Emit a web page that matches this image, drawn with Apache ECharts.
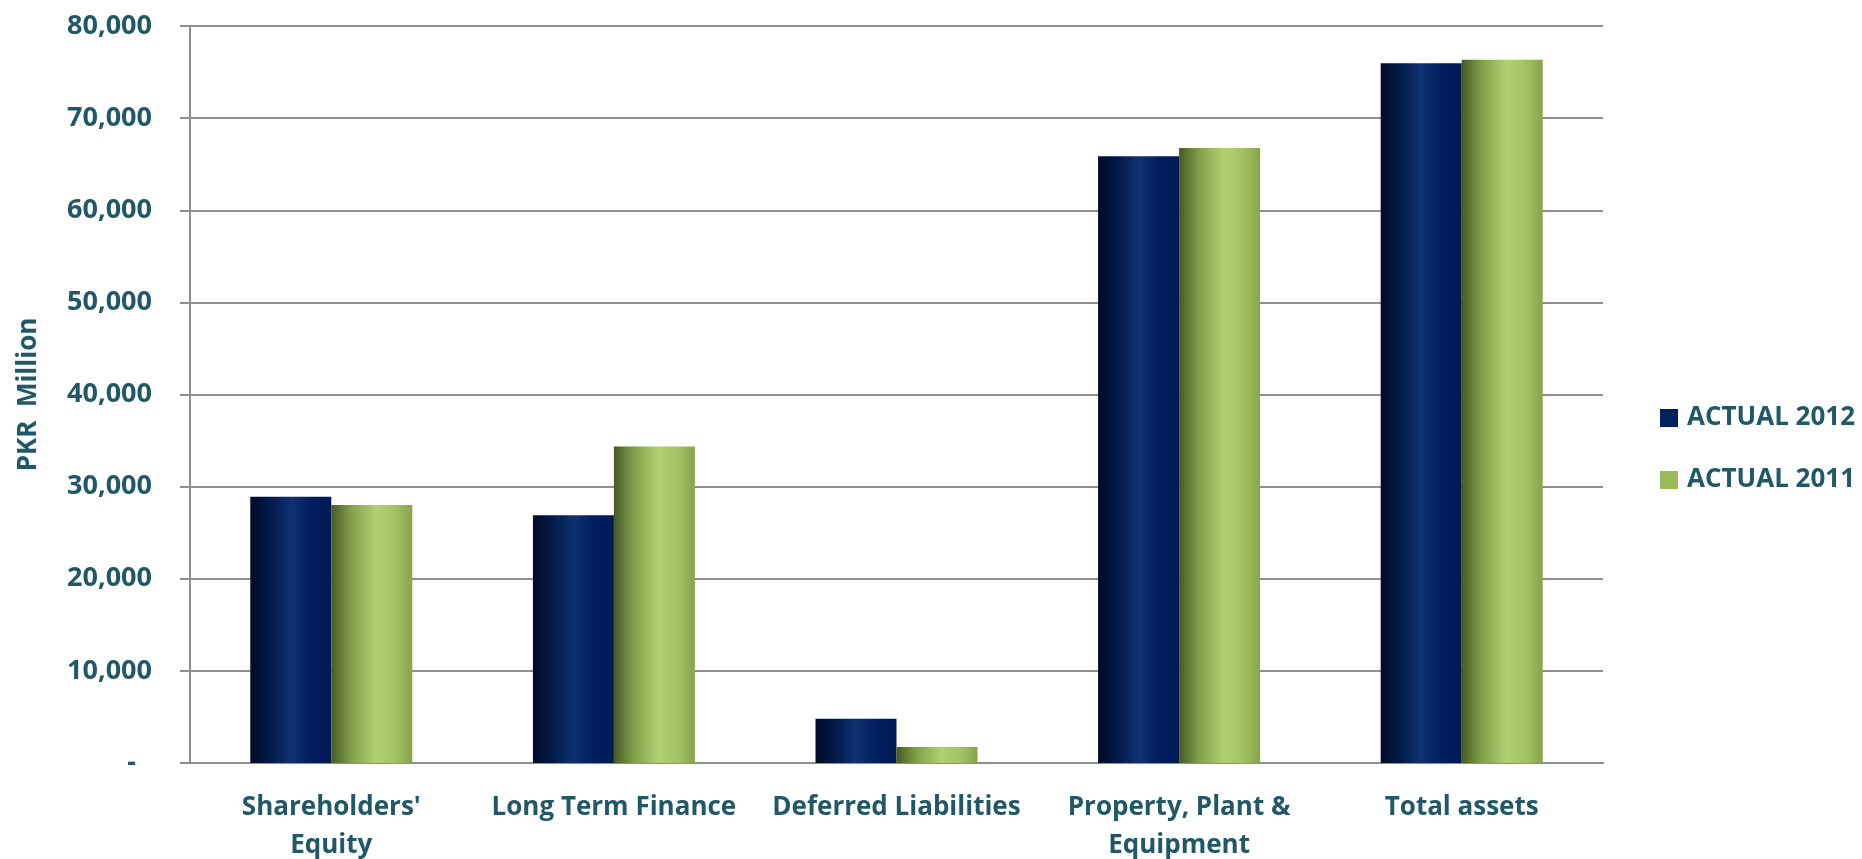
<!DOCTYPE html>
<html>
<head>
<meta charset="utf-8">
<title>Balance Sheet Comparison</title>
<script src="https://cdn.jsdelivr.net/npm/echarts@6/dist/echarts.min.js"></script>
<style>
  html, body { margin: 0; padding: 0; background: #ffffff; }
  #chart { width: 1862px; height: 859px; }
</style>
</head>
<body>
<div id="chart"></div>
<script>
// Balance sheet items, PKR million
const categories = [
  "Shareholders'\nEquity",
  'Long Term Finance',
  'Deferred Liabilities',
  'Property, Plant &\nEquipment',
  'Total assets'
];
const seriesNames = ['ACTUAL 2012', 'ACTUAL 2011'];
const actual2012 = [28900, 26900, 4800, 65850, 75950];
const actual2011 = [28000, 34350, 1750, 66750, 76350];

const textColor = '#215868';
const gridColor = '#8f8f8f';
const fontFamily = '"Open Sans", "Noto Sans", sans-serif';

// Cylinder-like horizontal shading for each series
const blueFill = new echarts.graphic.LinearGradient(0, 0, 1, 0, [
  { offset: 0, color: '#000a26' },
  { offset: 0.25, color: '#031a4c' },
  { offset: 0.5, color: '#10316f' },
  { offset: 0.75, color: '#021e5e' },
  { offset: 1, color: '#001a55' }
]);
const greenFill = new echarts.graphic.LinearGradient(0, 0, 1, 0, [
  { offset: 0, color: '#475a24' },
  { offset: 0.25, color: '#83a04a' },
  { offset: 0.55, color: '#b1d070' },
  { offset: 0.8, color: '#a3c163' },
  { offset: 1, color: '#87a34c' }
]);

const chart = echarts.init(document.getElementById('chart'), null, { renderer: 'canvas' });

chart.setOption({
  backgroundColor: '#ffffff',
  animation: false,
  grid: {
    left: 190, right: 259, top: 26, bottom: 96,
    containLabel: false,
    outerBoundsMode: 'none'
  },
  legend: {
    orient: 'vertical',
    left: 1655,
    top: 400,
    itemWidth: 18,
    itemHeight: 18,
    itemGap: 36,
    icon: 'rect',
    data: [
      { name: seriesNames[0], itemStyle: { color: '#002060' } },
      { name: seriesNames[1], itemStyle: { color: '#9bbb59' } }
    ],
    textStyle: {
      color: textColor,
      fontFamily: fontFamily,
      fontWeight: 'bold',
      fontSize: 26,
      padding: [0, 0, 0, 4]
    }
  },
  xAxis: {
    type: 'category',
    data: categories,
    axisLine: { show: true, lineStyle: { color: gridColor, width: 2 } },
    axisTick: { show: false },
    axisLabel: {
      color: textColor,
      fontFamily: fontFamily,
      fontWeight: 'bold',
      fontSize: 26,
      lineHeight: 38,
      margin: 26,
      interval: 0
    }
  },
  yAxis: {
    type: 'value',
    min: 0,
    max: 80000,
    interval: 10000,
    name: 'PKR  Million',
    nameLocation: 'middle',
    nameGap: 148,
    nameRotate: 90,
    nameTextStyle: {
      color: textColor,
      fontFamily: fontFamily,
      fontWeight: 'bold',
      fontSize: 26
    },
    axisLine: { show: true, lineStyle: { color: gridColor, width: 2 } },
    axisTick: { show: true, inside: false, length: 10, lineStyle: { color: gridColor, width: 2 } },
    splitLine: { show: true, lineStyle: { color: gridColor, width: 2 } },
    axisLabel: {
      color: textColor,
      fontFamily: fontFamily,
      fontWeight: 'bold',
      fontSize: 27,
      margin: 38,
      formatter: function (v) {
        return v === 0 ? '{z|-}' : v.toLocaleString('en-US');
      },
      rich: {
        z: {
          color: textColor,
          fontFamily: fontFamily,
          fontWeight: 'bold',
          fontSize: 27,
          padding: [0, 16, 0, 0]
        }
      }
    }
  },
  series: [
    {
      name: seriesNames[0],
      type: 'bar',
      data: actual2012,
      barWidth: 81,
      barGap: '0%',
      itemStyle: { color: blueFill }
    },
    {
      name: seriesNames[1],
      type: 'bar',
      data: actual2011,
      barWidth: 81,
      barGap: '0%',
      itemStyle: { color: greenFill }
    }
  ]
});
</script>
</body>
</html>
